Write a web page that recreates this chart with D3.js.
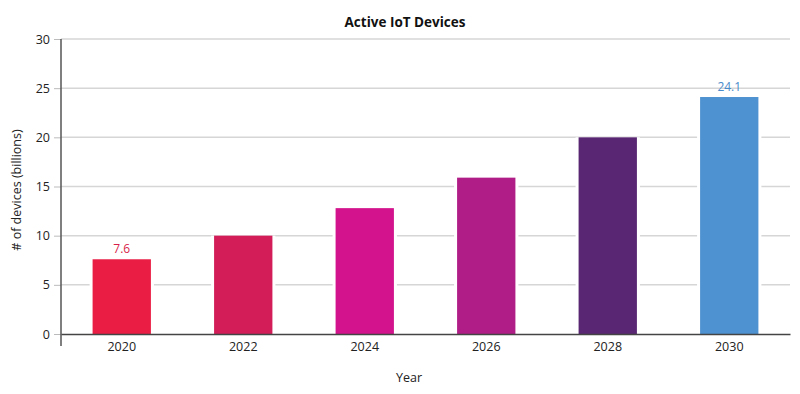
<!DOCTYPE html>
<html>
<head>
<meta charset="utf-8">
<script src="https://cdn.jsdelivr.net/npm/d3@7"></script>
<style>
  body { margin: 0; background: #fff; }
  svg, svg text { font-family: "Open Sans", "Noto Sans", sans-serif; }
</style>
</head>
<body>
<svg width="800" height="394"></svg>
<script>
// chart data
var years = ["2020", "2022", "2024", "2026", "2028", "2030"];
var devices = [7.6, 10, 12.8, 15.9, 20, 24.1];
var barColors = ["#ea1d44", "#d21d58", "#d3138d", "#b11d87", "#582672", "#4f92d1"];
var yTicks = [0, 5, 10, 15, 20, 25, 30];
// only first and last bars carry a value label
var labelYears = ["2020", "2030"];
var labelColors = ["#d81f4a", "#4a8bcb"];

var svg = d3.select("svg"),
	margin = { top: 39, right: 10, bottom: 60, left: 61 },
	width = +svg.attr("width") - margin.left - margin.right,
	height = 334 - margin.top;

var x = d3.scaleBand()
	.domain(years)
	.range([0, width])
	.paddingInner(0.52)
	.paddingOuter(0.26);

var y = d3.scaleLinear()
	.domain([0, 30])
	.range([height, 0]);

var g = svg.append("g").attr("transform", "translate(" + margin.left + "," + margin.top + ")");

// grid lines
g.append("g")
	.selectAll("line")
	.data(yTicks.filter(function(d) { return d > 0; }))
	.enter().append("line")
	.attr("x1", 0).attr("x2", width)
	.attr("y1", function(d) { return y(d); })
	.attr("y2", function(d) { return y(d); })
	.attr("stroke", "#d6d6d6")
	.attr("stroke-width", 1.5);

// y axis
var yAxis = g.append("g")
	.call(d3.axisLeft(y).tickValues(yTicks).tickSize(7).tickPadding(4))
	.attr("font-family", null);
yAxis.select(".domain").remove();
yAxis.selectAll(".tick line").attr("stroke", "#bbb");
yAxis.selectAll(".tick text")
	.attr("fill", "#222")
	.style("font-size", "12.5px");

g.append("line")
	.attr("x1", 0).attr("x2", 0)
	.attr("y1", 0).attr("y2", height + 12)
	.attr("stroke", "#555")
	.attr("stroke-width", 1.5);

// white halo so grid lines break around the bars
g.selectAll(".halo")
	.data(devices)
	.enter().append("rect")
	.attr("class", "halo")
	.attr("x", function(d, i) { return x(years[i]) - 3; })
	.attr("y", function(d) { return y(d); })
	.attr("width", x.bandwidth() + 6)
	.attr("height", function(d) { return height - y(d); })
	.attr("fill", "#fff");

// bars
g.selectAll(".bar")
	.data(devices)
	.enter().append("rect")
	.attr("class", "bar")
	.attr("x", function(d, i) { return x(years[i]); })
	.attr("y", function(d) { return y(d); })
	.attr("width", x.bandwidth())
	.attr("height", function(d) { return height - y(d); })
	.attr("fill", function(d, i) { return barColors[i]; });

// value labels
g.selectAll(".val")
	.data(labelYears)
	.enter().append("text")
	.attr("class", "val")
	.attr("x", function(d) { return x(d) + x.bandwidth() / 2; })
	.attr("y", function(d) { return y(devices[years.indexOf(d)]) - 6; })
	.attr("text-anchor", "middle")
	.attr("fill", function(d, i) { return labelColors[i]; })
	.style("font-size", "12px")
	.text(function(d) { return devices[years.indexOf(d)]; });

// x axis
var xAxis = g.append("g")
	.attr("transform", "translate(0," + height + ")")
	.call(d3.axisBottom(x).tickSize(0).tickPadding(8))
	.attr("font-family", null);
xAxis.select(".domain").attr("stroke", "#444").attr("stroke-width", 1.5);
xAxis.selectAll(".tick text")
	.attr("fill", "#222")
	.style("font-size", "12.5px");

// titles
svg.append("text")
	.attr("x", 405).attr("y", 27)
	.attr("text-anchor", "middle")
	.style("font-size", "13.5px")
	.style("font-weight", "bold")
	.attr("fill", "#111")
	.text("Active IoT Devices");

svg.append("text")
	.attr("x", 409).attr("y", 382)
	.attr("text-anchor", "middle")
	.style("font-size", "12.5px")
	.attr("fill", "#222")
	.text("Year");

svg.append("text")
	.attr("transform", "translate(21,190) rotate(-90)")
	.attr("text-anchor", "middle")
	.style("font-size", "12.5px")
	.attr("fill", "#222")
	.text("# of devices (billions)");
</script>
</body>
</html>
